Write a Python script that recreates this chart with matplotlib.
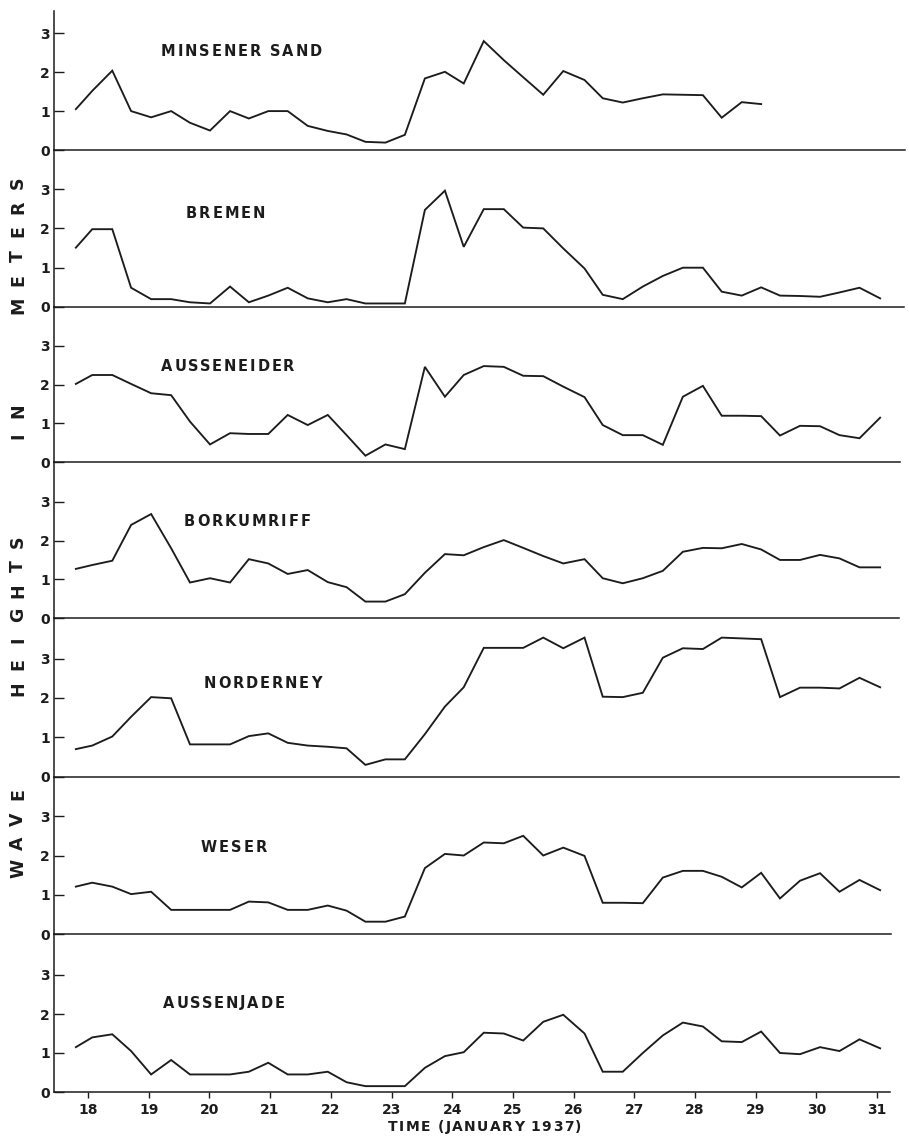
import matplotlib
matplotlib.use("Agg")
import matplotlib.pyplot as plt
import matplotlib.transforms as mtransforms
from matplotlib.font_manager import FontProperties
from matplotlib.textpath import TextToPath

# Observation times (days of January 1937) shared by all stations
time_days = [17.80, 18.07, 18.40, 18.71, 19.04, 19.37, 19.68, 20.01, 20.34, 20.65,
             20.97, 21.29, 21.62, 21.95, 22.26, 22.57, 22.90, 23.22, 23.55, 23.88,
             24.19, 24.52, 24.85, 25.17, 25.50, 25.83, 26.18, 26.48, 26.81, 27.14,
             27.47, 27.80, 28.13, 28.44, 28.77, 29.09, 29.40, 29.73, 30.06, 30.38,
             30.71, 31.05]

stations = ["MINSENER SAND", "BREMEN", "AUSSENEIDER", "BORKUMRIFF",
            "NORDERNEY", "WESER", "AUSSENJADE"]

# Wave heights in meters
minsener_sand = [1.05, 1.52, 2.04, 1.00, 0.84, 1.00, 0.70, 0.50, 1.00, 0.81,
                 1.00, 1.00, 0.62, 0.49, 0.40, 0.21, 0.19, 0.39, 1.84, 2.01,
                 1.71, 2.80, 2.31, 1.87, 1.42, 2.03, 1.80, 1.33, 1.22, 1.33,
                 1.43, 1.42, 1.41, 0.83, 1.23, 1.18]
bremen = [1.51, 1.98, 1.98, 0.49, 0.20, 0.20, 0.12, 0.09, 0.52, 0.12,
          0.29, 0.49, 0.22, 0.12, 0.20, 0.09, 0.09, 0.09, 2.47, 2.96,
          1.53, 2.49, 2.49, 2.02, 2.00, 1.49, 0.98, 0.31, 0.20, 0.52,
          0.79, 1.00, 1.00, 0.39, 0.29, 0.50, 0.29, 0.28, 0.26, 0.37,
          0.49, 0.22]
ausseneider = [2.02, 2.25, 2.25, 2.02, 1.78, 1.73, 1.05, 0.46, 0.75, 0.73,
               0.73, 1.22, 0.96, 1.22, 0.70, 0.17, 0.46, 0.34, 2.46, 1.69,
               2.25, 2.48, 2.46, 2.23, 2.22, 1.95, 1.68, 0.96, 0.70, 0.70,
               0.45, 1.69, 1.97, 1.20, 1.20, 1.19, 0.69, 0.94, 0.93, 0.70,
               0.62, 1.15]
borkumriff = [1.27, 1.37, 1.48, 2.40, 2.68, 1.80, 0.92, 1.03, 0.92, 1.52,
              1.41, 1.14, 1.24, 0.93, 0.80, 0.43, 0.43, 0.62, 1.17, 1.65,
              1.62, 1.83, 2.01, 1.81, 1.60, 1.41, 1.52, 1.03, 0.90, 1.03,
              1.22, 1.71, 1.81, 1.80, 1.91, 1.77, 1.50, 1.50, 1.63, 1.54,
              1.31, 1.31]
norderney = [0.70, 0.79, 1.02, 1.52, 2.02, 1.99, 0.82, 0.82, 0.82, 1.03,
             1.10, 0.86, 0.79, 0.76, 0.72, 0.30, 0.44, 0.44, 1.08, 1.78,
             2.27, 3.27, 3.27, 3.27, 3.53, 3.26, 3.53, 2.03, 2.02, 2.13,
             3.02, 3.26, 3.24, 3.53, 3.51, 3.49, 2.02, 2.26, 2.26, 2.24,
             2.51, 2.27]
weser = [1.21, 1.31, 1.21, 1.02, 1.08, 0.62, 0.62, 0.62, 0.62, 0.83,
         0.81, 0.62, 0.62, 0.73, 0.60, 0.32, 0.32, 0.45, 1.68, 2.04,
         2.00, 2.33, 2.31, 2.50, 2.00, 2.20, 1.99, 0.80, 0.80, 0.79,
         1.44, 1.61, 1.61, 1.46, 1.19, 1.56, 0.91, 1.36, 1.55, 1.08,
         1.38, 1.12]
aussenjade = [1.15, 1.40, 1.48, 1.05, 0.45, 0.82, 0.45, 0.45, 0.45, 0.52,
              0.75, 0.45, 0.45, 0.52, 0.25, 0.15, 0.15, 0.15, 0.62, 0.92,
              1.02, 1.52, 1.50, 1.32, 1.80, 1.98, 1.50, 0.52, 0.52, 1.00,
              1.45, 1.78, 1.68, 1.30, 1.28, 1.55, 1.00, 0.97, 1.15, 1.05,
              1.35, 1.12]

series = [minsener_sand, bremen, ausseneider, borkumriff, norderney, weser, aussenjade]

day_ticks = list(range(18, 32))
y_ticks = [0, 1, 2, 3]
y_tick_labels = ["0", "1", "2", "3"]

# ---- layout (figure pixels) ----
W, H = 909, 1137
INK = "#1c1c1c"
fig = plt.figure(figsize=(W / 100, H / 100), dpi=100)
fig.patch.set_facecolor("white")

left_px = 54
zero_px = [150, 307, 462.3, 618.3, 776.7, 934.3, 1092]
top_first_px = 11
unit_px = [38.9, 39.3, 38.8, 38.9, 39.4, 39.4, 39.0]
right_px = [905, 904, 900, 899, 899, 891, 890]
# horizontal scale: day 18 at x=88 px, 60.7 px per day
x0_px, day_px = 88.0, 60.7


def px_to_day(px):
    return 18 + (px - x0_px) / day_px


label_pos = [(161, 51), (186, 214), (161, 367), (184, 522), (204, 683), (201, 847), (163, 1003)]

label_fp = FontProperties(family="DejaVu Sans", weight="bold", size=10.5)
t2p = TextToPath()


def tracked(ax, x, y, s, fp, track_pt, transform, **kw):
    """Draw a string letter by letter with extra tracking (points)."""
    for i, ch in enumerate(s):
        if ch == " ":
            continue
        adv = t2p.get_text_width_height_descent(s[:i], fp, ismath=False)[0] if i else 0.0
        tr = mtransforms.offset_copy(transform, fig=fig, x=adv + i * track_pt, y=0, units="points")
        ax.text(x, y, ch, fontproperties=fp, transform=tr, ha="left", va="center", color=INK, **kw)


axes = []
for i, vals in enumerate(series):
    top = top_first_px if i == 0 else zero_px[i - 1]
    bottom = zero_px[i]
    ax = fig.add_axes([left_px / W, 1 - bottom / H, (right_px[i] - left_px) / W, (bottom - top) / H])
    ax.set_facecolor("none")
    ax.plot(time_days[:len(vals)], vals, color=INK, lw=1.35, solid_joinstyle="miter")
    ax.set_xlim(px_to_day(left_px), px_to_day(right_px[i]))
    ax.set_ylim(0, (bottom - top) / unit_px[i])
    for side in ("top", "right"):
        ax.spines[side].set_visible(False)
    for side in ("left", "bottom"):
        ax.spines[side].set_color(INK)
        ax.spines[side].set_linewidth(1.1)
    ax.set_yticks(y_ticks)
    ax.set_yticklabels(y_tick_labels)
    ax.tick_params(axis="y", direction="in", length=7, width=1.0, pad=3, colors=INK,
                   labelsize=10)
    for lab in ax.get_yticklabels():
        lab.set_fontweight("bold")
    if i < len(series) - 1:
        ax.set_xticks([])
    else:
        ax.set_xticks(day_ticks)
        ax.set_xticklabels([str(d) for d in day_ticks])
        ax.tick_params(axis="x", direction="out", length=4, width=1.0, pad=4, colors=INK,
                       labelsize=10)
        for lab in ax.get_xticklabels():
            lab.set_fontweight("bold")
    lx, ly = label_pos[i]
    tracked(ax, px_to_day(lx), (bottom - ly) / unit_px[i], stations[i], label_fp, 1.4, ax.transData)
    axes.append(ax)

# x-axis title
xt_fp = FontProperties(family="DejaVu Sans", weight="bold", size=10)
tracked(axes[-1], px_to_day(388), 0, "TIME (JANUARY 1937)", xt_fp, 1.0,
        mtransforms.blended_transform_factory(axes[-1].transData, fig.transFigure) +
        mtransforms.Affine2D().translate(0, (1 - 1127 / H) * H))

# vertical axis title, letter by letter
ylab_fp = FontProperties(family="DejaVu Sans", weight="bold", size=12.5)
words = ["WAVE", "HEIGHTS", "IN", "METERS"]
pitch, gap = 24.5, 106
y = 868
for w in words:
    for j, ch in enumerate(w):
        fig.text(18 / W, 1 - y / H, ch, rotation=90, ha="center", va="center",
                 fontproperties=ylab_fp, color=INK)
        if j < len(w) - 1:
            y -= pitch
    y -= gap

fig.savefig("out.png", dpi=100, facecolor="white")
